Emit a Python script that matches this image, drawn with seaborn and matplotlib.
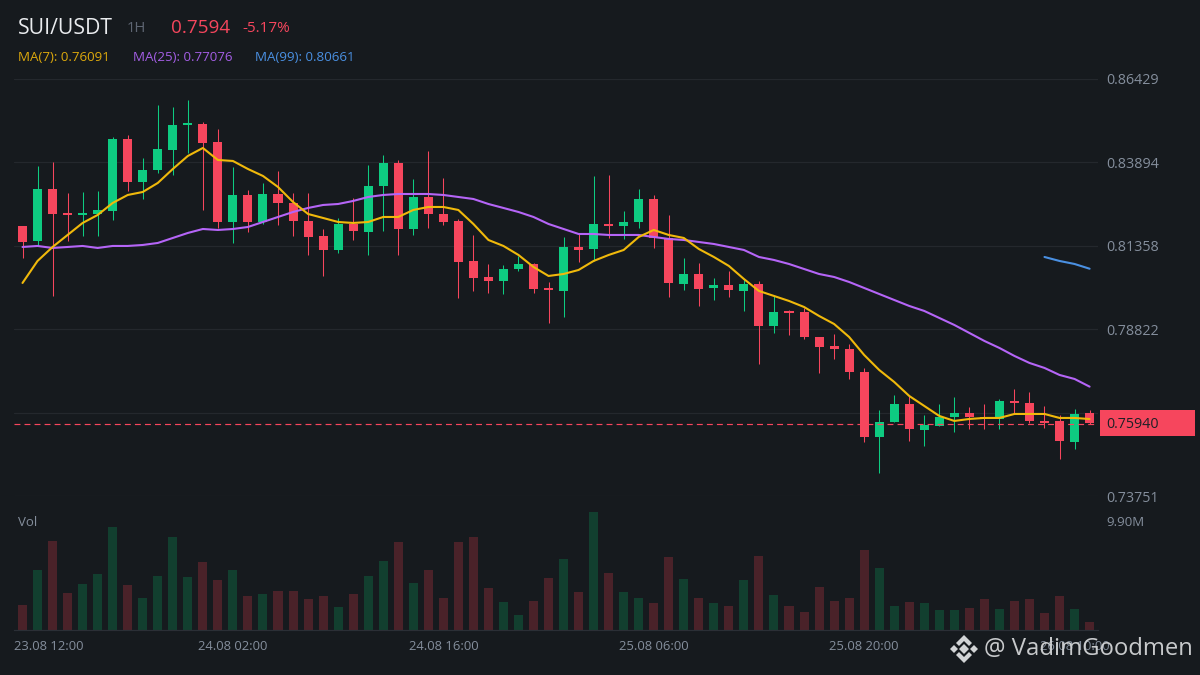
import numpy as np
import pandas as pd
import matplotlib
matplotlib.use("Agg")
import matplotlib.pyplot as plt
from matplotlib.patches import Polygon, Rectangle
import seaborn as sns

BG = "#161A1E"
GRID = "#24282D"
RED = "#F6465D"
GREEN = "#0ECB81"
VOL_RED = "#4A2229"
VOL_GREEN = "#123F2F"
GREY = "#848E9C"

open_px = [.81961, .81505, .83085, .82356, .82295, .82325, .82417, .84605, .83298, .83663, .84271, .85031,
           .85061, .84514, .82082, .82903, .82082, .82933, .82660, .82113, .81657, .81231, .82021, .81778,
           .83177, .83876, .81869, .82842, .82325, .82113, .80897, .80410, .80289, .80653, .80805, .80076,
           .79985, .81322, .81261, .82021, .81961, .82082, .82781, .81596, .80197, .80501, .80076, .80167,
           .79985, .80197, .78921, .79377, .79346, .78586, .78313, .78221, .77522, .75546, .76002, .76549,
           .75759, .75881, .76154, .76276, .76154, .76093, .76641, .76580, .76033, .76033, .75394, .76276]
high_px = [.81961, .83785, .83906, .82964, .82994, .83025, .84666, .84727, .84028, .85639, .85578, .85791,
           .85122, .84909, .83754, .83055, .83268, .83633, .82964, .82964, .81869, .82204, .82812, .83815,
           .84119, .83967, .83389, .84241, .83420, .82173, .81687, .80805, .80775, .81049, .80836, .80258,
           .81626, .81717, .83481, .83511, .82417, .83085, .82903, .82295, .80988, .80836, .80380, .80593,
           .80349, .80289, .79833, .79407, .79468, .78586, .78677, .78373, .77644, .76367, .76823, .76793,
           .76215, .76549, .76762, .76458, .76549, .76701, .77005, .76914, .76489, .76215, .76397, .76367]
low_px = [.80988, .81353, .79833, .81505, .81657, .81657, .82143, .83025, .82781, .83572, .83511, .84180,
          .82447, .81900, .81444, .81778, .82021, .81991, .81657, .81079, .80441, .81140, .81535, .81079,
          .81809, .81079, .81687, .81900, .81991, .79772, .79985, .79924, .79893, .80593, .79924, .79012,
          .79194, .80866, .80897, .81596, .81566, .81900, .81292, .79802, .80015, .79529, .79711, .79802,
          .79377, .77765, .78708, .78647, .78525, .77492, .77917, .77309, .75394, .74452, .76002, .75425,
          .75273, .75881, .75698, .75789, .75789, .75789, .76245, .75972, .75820, .74877, .75181, .75941]
close_px = [.81474, .83085, .82325, .82295, .82356, .82447, .84605, .83298, .83663, .84301, .85031, .85092,
            .84484, .82082, .82903, .82082, .82933, .82660, .82113, .81626, .81231, .82021, .81809, .83177,
            .83876, .81869, .82842, .82325, .82082, .80866, .80380, .80289, .80653, .80805, .80045, .80015,
            .81322, .81231, .82021, .81961, .82082, .82781, .81596, .80228, .80501, .80045, .80167, .80015,
            .80197, .78921, .79346, .79316, .78586, .78282, .78221, .77522, .75546, .76002, .76549, .75789,
            .75911, .76154, .76276, .76154, .76124, .76641, .76580, .76033, .75972, .75425, .76245, .75972]
volume = [2.30, 5.48, 8.11, 3.39, 4.20, 5.11, 9.38, 4.11, 2.93, 4.93, 8.47, 4.84,
          6.20, 4.57, 5.48, 3.11, 3.30, 3.57, 3.57, 2.84, 3.11, 2.12, 3.30, 4.93,
          6.29, 8.02, 4.29, 5.48, 2.93, 8.02, 8.47, 3.84, 2.57, 1.39, 2.66, 4.75,
          6.47, 3.48, 10.74, 5.20, 3.48, 2.93, 2.48, 6.66, 4.66, 2.93, 2.48, 2.21,
          4.57, 6.75, 3.21, 2.21, 1.66, 3.93, 2.66, 2.93, 7.29, 5.66, 2.21, 2.57,
          2.48, 1.84, 1.84, 2.02, 2.84, 1.93, 2.66, 2.84, 1.57, 3.11, 1.93, 0.75]
ma7 = [.80228, .80897, .81322, .81687, .82052, .82295, .82660, .82903, .82994, .83268, .83693, .84089,
       .84332, .83967, .83937, .83693, .83481, .83146, .82690, .82325, .82204, .82082, .82052, .82082,
       .82234, .82234, .82447, .82538, .82538, .82447, .82021, .81535, .81353, .81079, .80714, .80441,
       .80501, .80623, .80897, .81079, .81231, .81626, .81839, .81687, .81596, .81261, .81018, .80745,
       .80349, .79985, .79833, .79681, .79498, .79225, .78981, .78586, .78039, .77583, .77218, .76793,
       .76489, .76185, .76033, .76093, .76124, .76124, .76245, .76245, .76245, .76124, .76124, .76091]
ma25 = [.81322, .81353, .81292, .81322, .81353, .81292, .81353, .81353, .81383, .81444, .81596, .81748,
        .81869, .81839, .81869, .81930, .82082, .82234, .82386, .82508, .82599, .82629, .82721, .82842,
        .82903, .82933, .82933, .82933, .82903, .82842, .82781, .82629, .82508, .82386, .82234, .82021,
        .81869, .81717, .81717, .81687, .81687, .81687, .81626, .81566, .81535, .81474, .81413, .81322,
        .81231, .81018, .80927, .80805, .80653, .80501, .80410, .80258, .80076, .79893, .79711, .79529,
        .79377, .79164, .78951, .78708, .78465, .78252, .78009, .77796, .77644, .77431, .77309, .77076]
ma99_idx = [68, 69, 70, 71]
ma99 = [.81018, .80897, .80805, .80661]

price_ticks = [.73751, .76287, .78822, .81358, .83894, .86429]
price_labels = ["0.73751", "", "0.78822", "0.81358", "0.83894", "0.86429"]
last_price = 0.7594
time_pos = [1.76, 14, 28, 42, 56, 70]
time_labels = ["23.08 12:00", "24.08 02:00", "24.08 16:00", "25.08 06:00", "25.08 20:00", "26.08 10:00"]

sns.set_theme(style="dark", rc={"figure.facecolor": BG, "axes.facecolor": BG, "savefig.facecolor": BG})
plt.rcParams["font.family"] = ["Open Sans", "DejaVu Sans"]

df = pd.DataFrame({"idx": np.arange(len(open_px)), "open": open_px, "high": high_px, "low": low_px,
                   "close": close_px, "volume": volume, "ma7": ma7, "ma25": ma25})
df["dir"] = np.where(df["close"] < df["open"], "down", "up")
candle_colors = df["dir"].map({"down": RED, "up": GREEN})


def fx(px):
    return px / 1200


def fy(px):
    return 1 - px / 675


def axes_box(left, top, right, bottom):
    return [fx(left), fy(bottom), (right - left) / 1200, (bottom - top) / 675]


fig = plt.figure(figsize=(12, 6.75), dpi=100)
xlim = (-0.566, 71.56)

# price panel
ax = fig.add_axes(axes_box(14, 79, 1098, 496))
wicks = ax.vlines(df["idx"], df["low"], df["high"], colors=candle_colors, linewidth=0.75, zorder=2)
wicks.set_snap(True)
ax.bar(df["idx"], (df["close"] - df["open"]).abs(), bottom=df[["open", "close"]].min(axis=1),
       width=0.6, color=candle_colors, linewidth=0, zorder=3)
sns.lineplot(data=df, x="idx", y="ma25", ax=ax, color="#B565F7", linewidth=1.5, estimator=None, zorder=4)
sns.lineplot(data=df, x="idx", y="ma7", ax=ax, color="#F0B90B", linewidth=1.5, estimator=None, zorder=5)
sns.lineplot(x=ma99_idx, y=ma99, ax=ax, color="#4A90E2", linewidth=1.5, estimator=None, zorder=4)
ax.axhline(last_price, color=RED, linewidth=0.85, dashes=(5, 3.5), zorder=6)
ax.set_xlim(xlim)
ax.set_ylim(price_ticks[0], price_ticks[-1])
ax.set_xticks([])
ax.set_xlabel("")
ax.set_ylabel("")
ax.yaxis.tick_right()
ax.set_yticks(price_ticks)
ax.set_yticklabels(price_labels)
ax.tick_params(axis="y", length=0, pad=5.8, labelsize=10.3, labelcolor=GREY)
ax.grid(axis="y", color=GRID, linewidth=0.85, zorder=0)
ax.set_axisbelow(True)
ax.patch.set_alpha(0)
for side in ax.spines.values():
    side.set_visible(False)

# volume panel
vax = fig.add_axes(axes_box(14, 505, 1098, 630))
sns.barplot(data=df, x="idx", y="volume", hue="dir", ax=vax, native_scale=True, dodge=False, width=0.6,
            palette={"down": VOL_RED, "up": VOL_GREEN}, saturation=1, linewidth=0, legend=False)
vax.set_xlim(xlim)
vax.set_ylim(0, 11.35)
vax.set_xlabel("")
vax.set_ylabel("")
vax.yaxis.tick_right()
vax.set_yticks([9.9])
vax.set_yticklabels(["9.90M"])
vax.set_xticks(time_pos)
vax.set_xticklabels(time_labels)
vax.tick_params(axis="y", length=0, pad=5.8, labelsize=9.5, labelcolor=GREY)
vax.tick_params(axis="x", length=0, pad=7.3, labelsize=9.4, labelcolor=GREY)
vax.grid(False)
for name, side in vax.spines.items():
    side.set_visible(name == "bottom")
    side.set_color("#2B2F36")
    side.set_linewidth(0.85)
vax.patch.set_alpha(0)

# last price tag
fig.add_artist(Rectangle((fx(1100), fy(436)), 95 / 1200, 26 / 675, transform=fig.transFigure, color=RED, lw=0))
fig.text(fx(1106), fy(424.5), "0.75940", color="#1E2026", fontsize=10.3, va="center", ha="left")

# header
fig.text(fx(18), fy(28), "SUI/USDT", color="#EAECEF", fontsize=15.3, va="center", ha="left")
fig.text(fx(127), fy(29), "1H", color="#5E6673", fontsize=10.7, va="center", ha="left")
fig.text(fx(171), fy(28), "0.7594", color=RED, fontsize=13.6, va="center", ha="left")
fig.text(fx(242), fy(29), "-5.17%", color=RED, fontsize=11, va="center", ha="left")
fig.text(fx(18), fy(57.5), "MA(7): 0.76091", color="#DDA90C", fontsize=9.65, va="center", ha="left")
fig.text(fx(133), fy(57.5), "MA(25): 0.77076", color="#A45EE5", fontsize=9.65, va="center", ha="left")
fig.text(fx(255), fy(57.5), "MA(99): 0.80661", color="#4A90E2", fontsize=9.65, va="center", ha="left")
fig.text(fx(18), fy(522.5), "Vol", color=GREY, fontsize=9.5, va="center", ha="left")

# watermark
wm = "#D2D4D6"
cx, cy = 964, 649
logo_shapes = [
    [(0, -5), (5, 0), (0, 5), (-5, 0)],
    [(-14, 0), (-10, -4), (-6, 0), (-10, 4)],
    [(14, 0), (10, -4), (6, 0), (10, 4)],
    [(0, -14), (8, -6), (5, -3), (0, -8), (-5, -3), (-8, -6)],
    [(0, 14), (8, 6), (5, 3), (0, 8), (-5, 3), (-8, 6)],
]
for shape in logo_shapes:
    pts = [(fx(cx + sx), fy(cy + sy)) for sx, sy in shape]
    fig.add_artist(Polygon(pts, closed=True, transform=fig.transFigure, color=wm, lw=0))
fig.text(fx(984), fy(649), "@ VadimGoodmen", color=wm, fontsize=17.2, va="center", ha="left", alpha=0.95)

fig.savefig("out.png", dpi=100, facecolor=BG)
